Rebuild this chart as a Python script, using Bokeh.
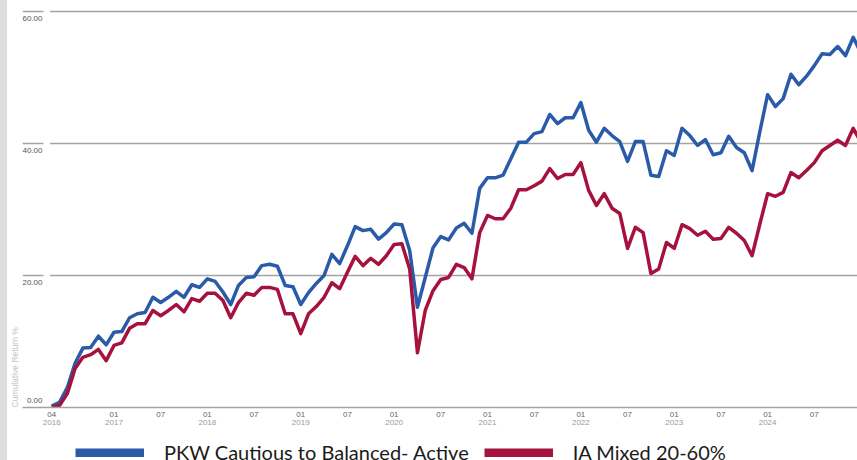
from bokeh.plotting import figure
from bokeh.models import (Range1d, LinearAxis, FixedTicker, CustomJSTickFormatter,
                          Legend, LegendItem, BoxAnnotation, Title, Div)
from bokeh.layouts import column, row
from bokeh.embed import file_html
from bokeh.resources import INLINE

# ---- data (cumulative return %, monthly) ----
pkw = [0.2, 0.8, 3.0, 6.7, 9.0, 9.1, 10.8, 9.5, 11.4, 11.5,
       13.6, 14.2, 14.4, 16.7, 15.9, 16.7, 17.6, 16.7, 18.6, 18.2,
       19.5, 19.1, 17.5, 15.6, 18.5, 19.7, 19.8, 21.5, 21.7, 21.4,
       18.5, 18.3, 15.6, 17.4, 18.8, 20.0, 23.2, 21.8, 24.5, 27.4,
       26.8, 27.0, 25.5, 26.5, 27.8, 27.7, 23.8, 15.2, 19.7, 24.2,
       25.9, 25.4, 27.2, 27.9, 26.4, 33.2, 34.8, 34.8, 35.2, 37.7,
       40.2, 40.2, 41.5, 41.8, 44.4, 43.0, 43.9, 43.9, 46.2, 42.0,
       40.2, 42.3, 41.2, 40.3, 37.3, 40.3, 40.3, 35.2, 35.0, 38.9,
       38.2, 42.3, 41.2, 39.7, 40.6, 38.3, 38.6, 41.1, 39.4, 38.6,
       35.9, 41.8, 47.4, 45.6, 46.8, 50.5, 48.9, 50.2, 51.8, 53.6,
       53.5, 54.7, 53.3, 56.1, 53.7]
ia = [0.0, 0.3, 2.1, 5.9, 7.6, 8.0, 8.8, 7.1, 9.4, 9.8,
      12.0, 12.7, 12.7, 14.7, 13.9, 14.7, 15.6, 14.5, 16.5, 16.1,
      17.3, 17.3, 16.2, 13.6, 15.9, 17.3, 17.0, 18.2, 18.2, 17.9,
      14.2, 14.2, 11.2, 14.2, 15.3, 16.7, 18.9, 18.0, 20.5, 22.9,
      21.5, 22.6, 21.7, 23.0, 24.7, 24.8, 21.0, 8.3, 14.7, 17.7,
      19.4, 19.7, 21.7, 21.2, 19.5, 26.5, 29.1, 28.6, 28.6, 30.2,
      33.0, 33.0, 33.6, 34.3, 36.2, 34.7, 35.3, 35.3, 37.1, 32.9,
      30.6, 32.4, 30.2, 29.4, 24.1, 27.3, 26.5, 20.3, 21.0, 25.0,
      24.1, 27.7, 27.1, 26.1, 26.7, 25.5, 25.6, 27.3, 26.4, 25.3,
      23.0, 27.8, 32.4, 32.0, 32.6, 35.6, 34.8, 35.9, 37.1, 38.9,
      39.7, 40.5, 39.7, 42.3, 40.2]
months = list(range(len(pkw)))

month_ticks = [0, 8, 14, 20, 26, 32, 38, 44, 50, 56, 62, 68, 74, 80, 86, 92, 98]
month_labels = ["04", "01", "07", "01", "07", "01", "07", "01", "07",
                "01", "07", "01", "07", "01", "07", "01", "07"]
year_ticks = [0, 8, 20, 32, 44, 56, 68, 80, 92]
year_labels = ["2016", "2017", "2018", "2019", "2020", "2021", "2022", "2023", "2024"]
y_ticks = [20, 40, 60]
series_names = ["PKW Cautious to Balanced- Active", "IA Mixed 20-60%"]

BLUE = "#2A5BA8"
RED = "#A6123E"
GRID = "#a3a3a3"
SMALL = "Liberation Sans"

p = figure(width=850, height=436, output_backend="svg", toolbar_location=None,
           x_range=Range1d(-3.756, 103.55), y_range=Range1d(0, 61.667),
           min_border_left=13, min_border_right=0, min_border_top=0,
           min_border_bottom=29, margin=0)
p.title.visible = False
p.outline_line_color = None
p.background_fill_color = "white"
p.border_fill_color = "white"
p.xgrid.visible = False
p.yaxis.visible = False

p.ygrid.ticker = FixedTicker(ticks=y_ticks)
p.ygrid.grid_line_color = GRID
p.ygrid.grid_line_width = 1.5

# white gap between the short tick segments and the grid lines
p.add_layout(BoxAnnotation(left=-1.06, right=-0.2, bottom=0.6, fill_color="white",
                           fill_alpha=1.0, line_color=None, level="underlay"))

# y labels axis (shifted range so labels sit just below their lines)
p.extra_y_ranges = {"lab": Range1d(1.136, 62.803)}
ylab = LinearAxis(y_range_name="lab", ticker=FixedTicker(ticks=[2.2, 20, 40, 60]),
                  formatter=CustomJSTickFormatter(code="return tick < 10 ? '0.00' : tick.toFixed(2);"),
                  axis_line_color=None, major_tick_line_color=None,
                  minor_tick_line_color=None, major_tick_out=0, major_tick_in=0,
                  major_label_standoff=-20, major_label_text_align="right",
                  major_label_text_font_size="8px",
                  major_label_text_color="#555", major_label_text_font=SMALL)
p.add_layout(ylab, "left")
p.add_layout(Title(text="Cumulative Return %", align="left", offset=0, standoff=0,
                   text_font_size="8.5px", text_color="#c4c4c4", text_font=SMALL,
                   text_font_style="normal"), "left")

xa = p.xaxis[0]
xa.ticker = FixedTicker(ticks=month_ticks)
xa.major_label_overrides = {t: l for t, l in zip(month_ticks, month_labels)}
xa.major_label_text_align = "left"
xa.major_tick_out = 0
xa.major_tick_in = 0
xa.minor_tick_line_color = None
xa.major_label_standoff = 4
xa.major_label_text_font_size = "8px"
xa.major_label_text_color = "#666"
xa.major_label_text_font = SMALL
xa.axis_line_color = GRID
xa.axis_line_width = 1.5

ya = LinearAxis(ticker=FixedTicker(ticks=year_ticks),
                major_label_overrides={t: l for t, l in zip(year_ticks, year_labels)},
                major_label_text_align="left", major_tick_out=0, major_tick_in=0,
                minor_tick_line_color=None, major_tick_line_color=None,
                axis_line_color=None, major_label_standoff=0,
                major_label_text_font_size="8px", major_label_text_color="#9a9a9a",
                major_label_text_font=SMALL)
p.add_layout(ya, "below")

p.line(months, pkw, line_width=3.5, color=BLUE, line_join="round")
p.line(months, ia, line_width=3.5, color=RED, line_join="round")

# legend strip (swatch renderers sit outside the visible range)
q = figure(width=850, height=24, output_backend="svg", toolbar_location=None,
           x_range=Range1d(0, 1), y_range=Range1d(0, 1), min_border=0, margin=0)
q.title.visible = False
q.axis.visible = False
q.grid.visible = False
q.outline_line_color = None
lb = q.line(x=[-5, -4], y=[-5, -5], line_width=9, color=BLUE)
lr = q.line(x=[-5, -4], y=[-5, -5], line_width=9, color=RED)
legend = Legend(items=[LegendItem(label=series_names[0], renderers=[lb]),
                       LegendItem(label=series_names[1], renderers=[lr])],
                orientation="horizontal", location=(53, -4), glyph_width=69,
                glyph_height=9, label_standoff=20, spacing=15, padding=0, margin=0,
                border_line_color=None, background_fill_alpha=0,
                label_text_font="Lato", label_text_font_size="20px",
                label_text_color="#1a1a1a")
q.add_layout(legend, "center")

strip = Div(width=7, height=460, margin=0, styles={"background-color": "#dedede"})
layout = row(strip, column(p, q, spacing=0, margin=0), spacing=0, margin=0)

open("out.html", "w").write(file_html(layout, INLINE))
